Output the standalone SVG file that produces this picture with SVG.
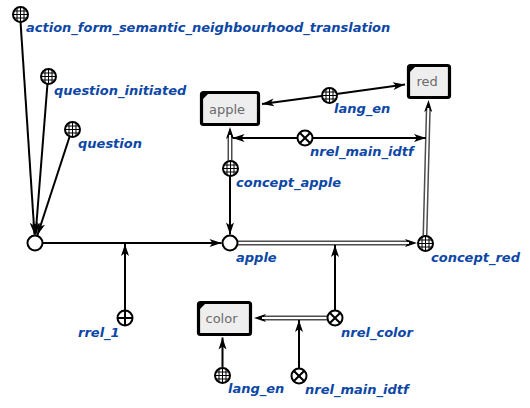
<svg xmlns="http://www.w3.org/2000/svg" xmlns:xlink="http://www.w3.org/1999/xlink" width="530" height="408" viewBox="0 0 530 408">
<style>
.lbl{font-family:"DejaVu Sans","Liberation Sans",sans-serif;font-weight:bold;font-style:italic;font-size:13px;fill:#0d47a6}
.btx{font-family:"DejaVu Sans","Liberation Sans",sans-serif;font-size:13px;fill:#6a6a6a}
.ln{fill:none;stroke:#000;stroke-width:2}
.dbo{fill:none;stroke:#4d4d4d;stroke-width:5}
.dbi{fill:none;stroke:#fff;stroke-width:2}
.box{fill:#eeeeee;stroke:#000;stroke-width:3.2}
.nd{fill:#fff;stroke:#000;stroke-width:2}
.gl{stroke:#000;stroke-width:1}
.xl{stroke:#000;stroke-width:2}
</style>
<defs>
<marker id="arr" markerUnits="userSpaceOnUse" markerWidth="12" markerHeight="8" refX="12" refY="4" orient="auto" overflow="visible">
<path d="M0,0 L12,4 L0,8 L3,4 z" fill="#000"/>
</marker>
<marker id="arrD" markerUnits="userSpaceOnUse" markerWidth="12" markerHeight="8" refX="4" refY="4" orient="auto" overflow="visible">
<path d="M0,0 L12,4 L0,8 L3,4 z" fill="#000"/>
</marker>
<g id="grid">
<circle r="7.5" fill="#fff"/>
<line class="gl" x1="-3.5" y1="-6.6" x2="-3.5" y2="6.6"/>
<line class="gl" x1="0" y1="-7.5" x2="0" y2="7.5"/>
<line class="gl" x1="3.5" y1="-6.6" x2="3.5" y2="6.6"/>
<line class="gl" x1="-6.6" y1="-3.5" x2="6.6" y2="-3.5"/>
<line class="gl" x1="-7.5" y1="0" x2="7.5" y2="0"/>
<line class="gl" x1="-6.6" y1="3.5" x2="6.6" y2="3.5"/>
<circle r="7.5" fill="none" stroke="#000" stroke-width="2"/>
</g>
<g id="xnode">
<circle r="7.5" fill="#fff"/>
<line class="xl" x1="-5.3" y1="-5.3" x2="5.3" y2="5.3"/>
<line class="xl" x1="-5.3" y1="5.3" x2="5.3" y2="-5.3"/>
<circle r="7.5" fill="none" stroke="#000" stroke-width="2"/>
</g>
<g id="pnode">
<circle r="7.5" fill="#fff"/>
<line class="xl" x1="-7.5" y1="0" x2="7.5" y2="0"/>
<line class="xl" x1="0" y1="-7.5" x2="0" y2="7.5"/>
<circle r="7.5" fill="none" stroke="#000" stroke-width="2"/>
</g>
</defs>

<g id="connectors">
<line class="ln" x1="20.5" y1="21.5" x2="34.5" y2="234.5" marker-end="url(#arr)"/>
<line class="ln" x1="47.5" y1="83.5" x2="35.6" y2="234.5" marker-end="url(#arr)"/>
<line class="ln" x1="69.8" y1="136" x2="37.5" y2="235" marker-end="url(#arr)"/>
<line class="ln" x1="42.5" y1="243" x2="221.5" y2="243" marker-end="url(#arr)"/>
<line class="ln" x1="125" y1="310.5" x2="125" y2="244" marker-end="url(#arr)"/>
<line class="ln" x1="230" y1="175.5" x2="230" y2="234.5" marker-end="url(#arr)"/>
<line class="dbo" x1="230" y1="160.5" x2="230" y2="135" marker-end="url(#arrD)"/>
<line class="dbi" x1="230" y1="160.5" x2="230" y2="135"/>
<line class="dbo" x1="237.5" y1="243" x2="409" y2="243" marker-end="url(#arrD)"/>
<line class="dbi" x1="237.5" y1="243" x2="409" y2="243"/>
<line class="dbo" x1="425" y1="235.5" x2="428.3" y2="108" marker-end="url(#arrD)"/>
<line class="dbi" x1="425" y1="235.5" x2="428.3" y2="108"/>
<line class="dbo" x1="327.5" y1="318" x2="262" y2="318" marker-end="url(#arrD)"/>
<line class="dbi" x1="327.5" y1="318" x2="262" y2="318"/>
<line class="ln" x1="297.5" y1="138" x2="232.5" y2="138" marker-end="url(#arr)"/>
<line class="ln" x1="312.5" y1="138" x2="426" y2="138" marker-end="url(#arr)"/>
<line class="ln" x1="321.6" y1="96" x2="262" y2="104" marker-end="url(#arr)"/>
<line class="ln" x1="336.4" y1="94" x2="405" y2="84.5" marker-end="url(#arr)"/>
<line class="ln" x1="335" y1="310.5" x2="335" y2="245" marker-end="url(#arr)"/>
<line class="ln" x1="299" y1="368.5" x2="299" y2="320" marker-end="url(#arr)"/>
<line class="ln" x1="222.5" y1="367.5" x2="222.5" y2="337.5" marker-end="url(#arr)"/>
</g>

<g id="action_form_semantic_neighbourhood_translation">
<use href="#grid" xlink:href="#grid" transform="translate(20.5,14.5)"/>
<text class="lbl" x="26" y="32">action_form_semantic_neighbourhood_translation</text>
</g>
<g id="question_initiated">
<use href="#grid" xlink:href="#grid" transform="translate(48.5,76.5)"/>
<text class="lbl" x="54" y="95">question_initiated</text>
</g>
<g id="question">
<use href="#grid" xlink:href="#grid" transform="translate(72.5,129.5)"/>
<text class="lbl" x="78" y="148">question</text>
</g>
<g id="tuple">
<circle class="nd" cx="35" cy="243" r="7.5"/>
</g>
<g id="apple_node">
<circle class="nd" cx="230" cy="243" r="7.5"/>
<text class="lbl" x="236" y="262">apple</text>
</g>
<g id="concept_red">
<use href="#grid" xlink:href="#grid" transform="translate(425.5,243.5)"/>
<text class="lbl" x="431" y="262">concept_red</text>
</g>
<g id="concept_apple">
<use href="#grid" xlink:href="#grid" transform="translate(230.5,168.5)"/>
<text class="lbl" x="236" y="187">concept_apple</text>
</g>
<g id="rrel_1">
<use href="#pnode" xlink:href="#pnode" transform="translate(125,318)"/>
<text class="lbl" x="78" y="337">rrel_1</text>
</g>
<g id="nrel_color">
<use href="#xnode" xlink:href="#xnode" transform="translate(335,318)"/>
<text class="lbl" x="341" y="337">nrel_color</text>
</g>
<g id="nrel_main_idtf_bottom">
<use href="#xnode" xlink:href="#xnode" transform="translate(299,376)"/>
<text class="lbl" x="305" y="394">nrel_main_idtf</text>
</g>
<g id="lang_en_bottom">
<use href="#grid" xlink:href="#grid" transform="translate(222.5,375.5)"/>
<text class="lbl" x="228" y="393">lang_en</text>
</g>
<g id="lang_en_top">
<use href="#grid" xlink:href="#grid" transform="translate(329.5,95.5)"/>
<text class="lbl" x="334" y="113">lang_en</text>
</g>
<g id="nrel_main_idtf_top">
<use href="#xnode" xlink:href="#xnode" transform="translate(305,138)"/>
<text class="lbl" x="310" y="156">nrel_main_idtf</text>
</g>
<g id="box_apple">
<rect class="box" x="201.5" y="92.5" width="57" height="32" rx="2"/>
<polygon points="201.5,92.5 209.5,92.5 201.5,100.5" fill="#000"/>
<text class="btx" x="209" y="114">apple</text>
</g>
<g id="box_red">
<rect class="box" x="408.5" y="65.5" width="41" height="32" rx="2"/>
<polygon points="408.5,65.5 416.5,65.5 408.5,73.5" fill="#000"/>
<text class="btx" x="416.5" y="86">red</text>
</g>
<g id="box_color">
<rect class="box" x="198.5" y="302.5" width="52" height="32" rx="2"/>
<polygon points="198.5,302.5 206.5,302.5 198.5,310.5" fill="#000"/>
<text class="btx" x="205.5" y="323">color</text>
</g>
</svg>
